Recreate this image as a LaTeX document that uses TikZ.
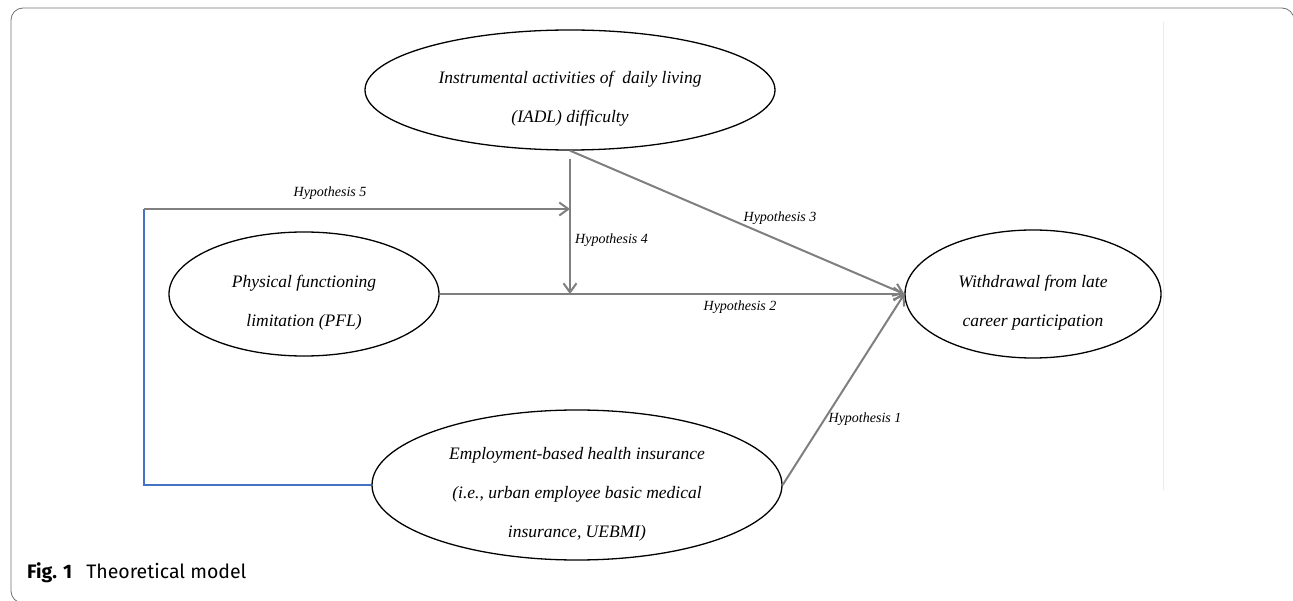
\documentclass[tikz,border=0pt]{standalone}
\usepackage{fontspec}
\setmainfont{Liberation Serif}
\newfontfamily\capfont{Fira Sans}
\usetikzlibrary{shapes.geometric}
\usetikzlibrary{arrows.meta}
\definecolor{linegray}{HTML}{7F7F7F}
\definecolor{linkblue}{HTML}{4472C4}
\definecolor{framegray}{HTML}{707070}

\begin{document}
\begin{tikzpicture}[x=1pt, y=-1pt,
    oval/.style={ellipse, draw=black, line width=1.3pt, inner sep=0pt},
    ovaltext/.style={align=center, inner sep=0pt, yshift=-9pt,
        font=\fontsize{17.5}{39}\selectfont\itshape},
    hyp/.style={font=\fontsize{14}{16}\selectfont\itshape, inner sep=0pt},
    hyparrow/.style={color=linegray, line width=2pt, -{Straight Barb[length=9pt,width=13pt]}}]

    \useasboundingbox (0,0) rectangle (1293,601);
    \clip (0,0) rectangle (1293,601);

    % outer frame and faint rule
    \draw[color=framegray, line width=0.8pt, rounded corners=12pt] (1294,640) -- (1294,8) -- (11,8) -- (11,603) -- (60,603);
    \draw[color=black!8, line width=0.6pt] (1163,22) -- (1163,490);

    \node[oval,
    minimum width=410pt,
    minimum height=120pt,
    label={[ovaltext]center:{Instrumental activities of\ \ daily living\\(IADL) difficulty}}] (iadl) at (570,90) {};

    \node[oval,
    minimum width=270pt,
    minimum height=124pt,
    label={[ovaltext]center:{Physical functioning\\limitation (PFL)}}] (pfl) at (304,294) {};

    \node[oval,
    minimum width=256pt,
    minimum height=128pt,
    label={[ovaltext]center:{Withdrawal from late\\career participation}}] (wd) at (1033,294) {};

    \node[oval,
    minimum width=410pt,
    minimum height=150pt,
    label={[ovaltext]center:{Employment-based health insurance\\(i.e., urban employee basic medical\\insurance, UEBMI)}}] (emp) at (577,485) {};

    \coordinate (corner) at (144,209);
    \coordinate (join) at (570,209);
    \coordinate (meet) at (570,294);
    \coordinate (top) at ([yshift=-8pt]iadl.south);

    \draw[hyparrow] (iadl.south) -- (wd.west);
    \draw[hyparrow] (pfl.east) -- (wd.west);
    \draw[hyparrow] (emp.east) -- (wd.west);
    \draw[hyparrow] (top) -- (meet);
    \draw[color=linkblue, line width=1.3pt] (emp.west) -| (corner);
    \draw[hyparrow] (corner) -- (join);

    \node[hyp] (h5) at (330,193) {Hypothesis 5};
    \node[hyp, anchor=west] (h4) at (575,240) {Hypothesis 4};
    \node[hyp] (h3) at (780,218) {Hypothesis 3};
    \node[hyp] (h2) at (740,307) {Hypothesis 2};
    \node[hyp] (h1) at (865,419) {Hypothesis 1};

    \node[anchor=west, inner sep=0pt, font=\capfont\fontsize{19.5}{22}\selectfont] (cap) at (27,573) {\textbf{Fig. 1}\hspace{14pt}Theoretical model};
\end{tikzpicture}
\end{document}
